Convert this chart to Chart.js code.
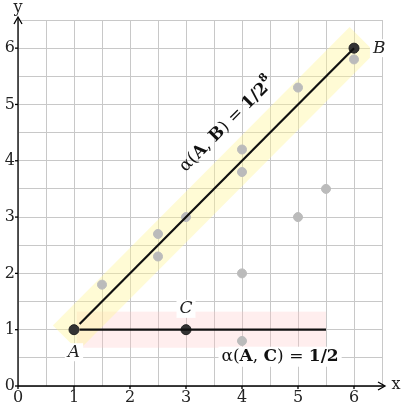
<!DOCTYPE html>
<html><head><meta charset="utf-8">
<script src="https://cdn.jsdelivr.net/npm/chart.js@4/dist/chart.umd.min.js"></script>
<style>html,body{margin:0;padding:0;background:#fff}#w{width:402px;height:408px}</style>
</head><body><div id="w"><canvas id="c"></canvas></div>
<script>
const grayX=[1.5,2.5,2.5,3,4,4,5,6,4,5,5.5,4];
const grayY=[1.8,2.7,2.3,3,4.2,3.8,5.3,5.8,2,3,3.5,0.8];
const darkX=[1,3,6];
const darkY=[1,1,6];
const xTicks=[0,1,2,3,4,5,6];
const yTicks=[0,1,2,3,4,5,6];
const lineAB=[{x:1.1,y:1.1},{x:6,y:6}];
const lineAC=[{x:1.1,y:1},{x:5.5,y:1}];
const SERIF='"DejaVu Serif","Liberation Serif",serif';

const deco={id:'deco',
beforeDatasetsDraw(ch){
 const c=ch.ctx,x=ch.scales.x,y=ch.scales.y;
 c.save();
 c.fillStyle='rgba(255,200,200,0.3)';
 const px1=x.getPixelForValue(1.05),px2=x.getPixelForValue(5.5),py1=y.getPixelForValue(1.32),py2=y.getPixelForValue(0.68);
 c.fillRect(px1,py1,px2-px1,py2-py1);
 const ax=x.getPixelForValue(0.85),ay=y.getPixelForValue(0.85),bx=x.getPixelForValue(6.15),by=y.getPixelForValue(6.15);
 const dx=bx-ax,dy=by-ay,L=Math.hypot(dx,dy),nx=-dy/L*18,ny=dx/L*18;
 c.fillStyle='rgba(255,245,150,0.4)';
 c.beginPath();c.moveTo(ax+nx,ay+ny);c.lineTo(bx+nx,by+ny);c.lineTo(bx-nx,by-ny);c.lineTo(ax-nx,ay-ny);c.closePath();c.fill();
 c.restore();
},
afterDraw(ch){
 const c=ch.ctx,x=ch.scales.x,y=ch.scales.y;
 c.save();
 const x0=x.getPixelForValue(0),y0=y.getPixelForValue(0);
 c.strokeStyle='#000';c.lineWidth=1.3;
 c.beginPath();c.moveTo(x0,y0);c.lineTo(384,y0);c.moveTo(x0,y0);c.lineTo(x0,18);c.stroke();
 c.beginPath();c.moveTo(378,y0-4);c.lineTo(385,y0);c.lineTo(378,y0+4);c.stroke();
 c.beginPath();c.moveTo(x0-4,24);c.lineTo(x0,17);c.lineTo(x0+4,24);c.stroke();
 c.fillStyle='#222';c.font='16px '+SERIF;c.textAlign='center';c.textBaseline='top';
 xTicks.forEach(v=>{const p=x.getPixelForValue(v);c.beginPath();c.moveTo(p,y0);c.lineTo(p,y0+3);c.stroke();c.fillText(String(v),p,y0+4);});
 c.textAlign='right';c.textBaseline='middle';
 yTicks.forEach(v=>{const p=y.getPixelForValue(v);c.beginPath();c.moveTo(x0-3,p);c.lineTo(x0,p);c.stroke();c.fillText(String(v),x0-3,p);});
 c.textAlign='center';c.fillText('x',396,y0-1);c.fillText('y',x0,8);
 c.font='italic 17px '+SERIF;
 const lab=(t,vx,vy)=>{const px=x.getPixelForValue(vx),py=y.getPixelForValue(vy);const w=c.measureText(t).width;c.fillStyle='#fff';c.fillRect(px-w/2-3,py-9,w+6,18);c.fillStyle='#222';c.fillText(t,px,py);};
 lab('A',1,0.6);lab('C',3,1.37);lab('B',6.45,6);
 c.font='17px '+SERIF;
 let px=x.getPixelForValue(4.68),py=y.getPixelForValue(0.52);
 const parts=[['α(','17px'],['A','bold 17px'],[', ','17px'],['C','bold 17px'],[') = ','17px'],['1/2','bold 17px']];
 let w=0;parts.forEach(([s,f])=>{c.font=f+' '+SERIF;w+=c.measureText(s).width;});
 c.fillStyle='#fff';c.fillRect(px-w/2-3,py-10,w+6,20);
 c.fillStyle='#111';c.textAlign='left';
 let sx=px-w/2;
 parts.forEach(([s,f])=>{c.font=f+' '+SERIF;c.fillText(s,sx,py);sx+=c.measureText(s).width;});
 px=x.getPixelForValue(3.73);py=y.getPixelForValue(4.64);
 c.translate(px,py);c.rotate(-Math.PI/4);
 const parts2=[['α(','17px'],['A','bold 17px'],[', ','17px'],['B','bold 17px'],[') = ','17px'],['1/2','bold 17px']];
 let tw=0;parts2.forEach(([s,f])=>{c.font=f+' '+SERIF;tw+=c.measureText(s).width;});
 c.font='bold 11px '+SERIF;tw+=c.measureText('8').width;
 sx=-tw/2;
 parts2.forEach(([s,f])=>{c.font=f+' '+SERIF;c.fillText(s,sx,0);sx+=c.measureText(s).width;});
 c.font='bold 11px '+SERIF;c.fillText('8',sx,-7);
 c.restore();
}};

new Chart(document.getElementById('c'),{
 type:'scatter',
 data:{datasets:[
  {data:lineAB,showLine:true,borderColor:'#111',borderWidth:2.2,pointRadius:0},
  {data:lineAC,showLine:true,borderColor:'#111',borderWidth:2.2,pointRadius:0},
  {data:grayX.map((v,i)=>({x:v,y:grayY[i]})),backgroundColor:'#bbb',borderColor:'#bbb',pointRadius:4.5},
  {data:darkX.map((v,i)=>({x:v,y:darkY[i]})),backgroundColor:'#333',borderColor:'#222',pointRadius:5}
 ]},
 options:{responsive:true,maintainAspectRatio:false,animation:false,
  layout:{padding:{left:18,right:20,top:20,bottom:22}},
  plugins:{legend:{display:false},tooltip:{enabled:false}},
  scales:{
   x:{type:'linear',min:0,max:6.5,ticks:{display:false,stepSize:0.5},border:{display:false},grid:{color:'#c8c8c8',drawTicks:false}},
   y:{type:'linear',min:0,max:6.5,ticks:{display:false,stepSize:0.5},border:{display:false},grid:{color:'#c8c8c8',drawTicks:false}}
  }},
 plugins:[deco]
});
</script></body></html>
